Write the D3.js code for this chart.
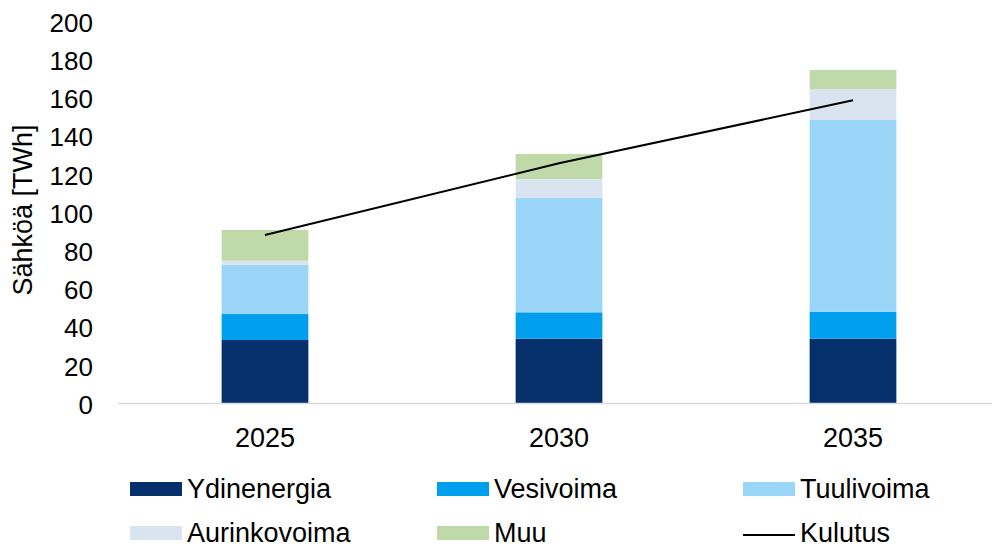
<!DOCTYPE html>
<html>
<head>
<meta charset="utf-8">
<script src="https://cdn.jsdelivr.net/npm/d3@7"></script>
<style>
  html, body { margin: 0; padding: 0; background: #ffffff; }
  svg { display: block; font-family: "Liberation Sans", Arial, sans-serif; }
</style>
</head>
<body>
<svg id="chart" width="992" height="549"></svg>
<script>
// Electricity production by source and consumption (TWh)
const years = ["2025", "2030", "2035"];
const ydinenergia = [33.5, 34.2, 34.2];
const vesivoima = [13.6, 13.8, 14.0];
const tuulivoima = [25.8, 60.0, 100.5];
const aurinkovoima = [2.1, 9.8, 16.1];
const muu = [16.1, 13.1, 10.1];
const kulutus = [88.5, 126, 159];
const yTicks = [0, 20, 40, 60, 80, 100, 120, 140, 160, 180, 200];

const seriesNames = ["Ydinenergia", "Vesivoima", "Tuulivoima", "Aurinkovoima", "Muu"];
const seriesValues = [ydinenergia, vesivoima, tuulivoima, aurinkovoima, muu];
const colors = ["#06306b", "#009fee", "#99d6f7", "#dae4f0", "#bfdaa8"];

const rows = years.map((y, i) => {
  const r = { year: y };
  seriesNames.forEach((n, k) => { r[n] = seriesValues[k][i]; });
  return r;
});

const svg = d3.select("#chart");

const x = d3.scaleBand()
  .domain(years)
  .range([118, 1000])
  .paddingInner(0.705)
  .paddingOuter(0.3525);

const y = d3.scaleLinear().domain([0, 200]).range([404, 22]);

const stacked = d3.stack().keys(seriesNames)(rows);

// stacked bars
svg.append("g")
  .selectAll("g")
  .data(stacked)
  .join("g")
  .attr("fill", (d, i) => colors[i])
  .selectAll("rect")
  .data(d => d)
  .join("rect")
  .attr("x", d => x(d.data.year))
  .attr("width", x.bandwidth())
  .attr("y", d => y(d[1]))
  .attr("height", d => y(d[0]) - y(d[1]));

// x axis baseline
svg.append("line")
  .attr("x1", 118).attr("x2", 992)
  .attr("y1", y(0) - 0.5).attr("y2", y(0) - 0.5)
  .attr("stroke", "#d9d9d9")
  .attr("stroke-width", 1.5);

// consumption line
const line = d3.line()
  .x((d, i) => x(years[i]) + x.bandwidth() / 2)
  .y(d => y(d));

svg.append("path")
  .datum(kulutus)
  .attr("d", line)
  .attr("fill", "none")
  .attr("stroke", "#000000")
  .attr("stroke-width", 2);

// y axis tick labels
const yAxis = d3.axisLeft(y).tickValues(yTicks).tickSize(0).tickPadding(0);
const yg = svg.append("g").attr("transform", "translate(93,0)").call(yAxis);
yg.select(".domain").remove();
yg.selectAll("text")
  .attr("font-family", "Liberation Sans, Arial, sans-serif")
  .attr("font-size", 26)
  .attr("fill", "#000000")
  .attr("dy", "0.36em");

// x axis labels
const xAxis = d3.axisBottom(x).tickSize(0).tickPadding(0);
const xg = svg.append("g").call(xAxis);
xg.select(".domain").remove();
xg.selectAll("text")
  .attr("font-family", "Liberation Sans, Arial, sans-serif")
  .attr("font-size", 27)
  .attr("fill", "#000000")
  .attr("y", 446.5)
  .attr("dy", 0);

// y axis title
svg.append("text")
  .attr("transform", "translate(32,210) rotate(-90)")
  .attr("text-anchor", "middle")
  .attr("font-size", 27)
  .attr("fill", "#000000")
  .text("Sähköä [TWh]");

// legend
const legendItems = seriesNames.map((n, i) => ({ name: n, color: colors[i], type: "rect" }))
  .concat([{ name: "Kulutus", color: "#000000", type: "line" }]);
const colX = [130, 437, 743];
const rowY = [488, 532];

const lg = svg.append("g")
  .selectAll("g")
  .data(legendItems)
  .join("g")
  .attr("transform", (d, i) => `translate(${colX[i % 3]},${rowY[Math.floor(i / 3)]})`);

lg.filter(d => d.type === "rect").append("rect")
  .attr("x", 0).attr("y", -6)
  .attr("width", 52).attr("height", 14)
  .attr("fill", d => d.color);

lg.filter(d => d.type === "line").append("line")
  .attr("x1", 0).attr("x2", 52)
  .attr("y1", 3).attr("y2", 3)
  .attr("stroke", d => d.color)
  .attr("stroke-width", 2);

lg.append("text")
  .attr("x", 57)
  .attr("y", 0)
  .attr("dy", "0.36em")
  .attr("font-size", 27)
  .attr("fill", "#000000")
  .text(d => d.name);
</script>
</body>
</html>
